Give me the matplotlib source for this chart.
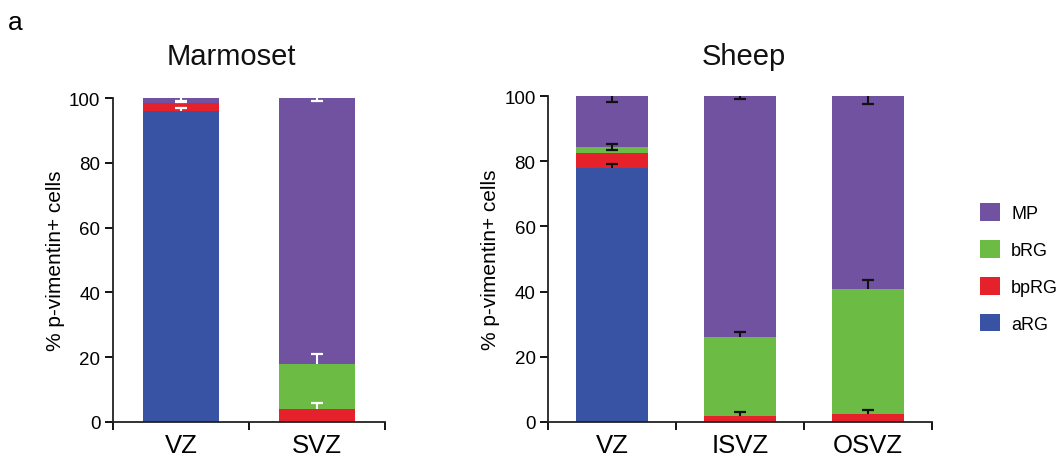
import matplotlib
matplotlib.use("Agg")
import matplotlib.pyplot as plt
import numpy as np

plt.rcParams['font.family'] = ['Liberation Sans', 'DejaVu Sans']

series = ["aRG", "bpRG", "bRG", "MP"]
colors = {"aRG": "#3953A4", "bpRG": "#E5222B", "bRG": "#6CBB45", "MP": "#7052A1"}

# Marmoset
marm_cats = ["VZ", "SVZ"]
marm_vals = {
    "aRG": [96.0, 0.0],
    "bpRG": [2.5, 4.0],
    "bRG": [0.0, 14.0],
    "MP": [1.5, 82.0],
}
marm_err = {
    "aRG": [1.0, 0.0],
    "bpRG": [0.6, 2.0],
    "bRG": [0.0, 3.0],
    "MP": [1.2, 1.0],
}

# Sheep
sheep_cats = ["VZ", "ISVZ", "OSVZ"]
sheep_vals = {
    "aRG": [78.0, 0.0, 0.0],
    "bpRG": [4.6, 1.8, 2.6],
    "bRG": [1.7, 24.4, 38.3],
    "MP": [15.7, 73.8, 59.1],
}
sheep_err = {
    "aRG": [1.0, 0.0, 0.0],
    "bpRG": [0.0, 1.2, 1.0],
    "bRG": [0.9, 1.5, 2.6],
    "MP": [1.8, 0.8, 2.5],
}

yticks = [0, 20, 40, 60, 80, 100]

fig = plt.figure(figsize=(10.58, 4.6), dpi=100)
ax1 = fig.add_axes([113/1058, 1-423/460, 272/1058, (423-99)/460])
ax2 = fig.add_axes([548/1058, 1-423/460, 384/1058, (423-97)/460])


def one_sided(ax, xi, y0, e, direction, ecolor):
    y1 = y0 + direction * e
    ax.plot([xi, xi], [y0, y1], color=ecolor, lw=1.5, zorder=3, solid_capstyle='butt')
    ax.plot([xi], [y1], marker='_', markersize=8, markeredgewidth=1.6,
            color=ecolor, zorder=3)


def draw(ax, cats, vals, errs, ecolor, title, both_idx=None):
    x = np.arange(len(cats))
    bottom = np.zeros(len(cats))
    width = 0.555
    for s in series:
        v = np.array(vals[s])
        ax.bar(x, v, width, bottom=bottom, color=colors[s], edgecolor='none', zorder=2)
        top = bottom + v
        e = np.array(errs[s])
        for i in range(len(cats)):
            if e[i] <= 0:
                continue
            if s == "MP":
                one_sided(ax, x[i], top[i], e[i], -1, ecolor)
            else:
                one_sided(ax, x[i], top[i], e[i], 1, ecolor)
                if both_idx is not None and (s, i) == both_idx:
                    one_sided(ax, x[i], top[i], e[i], -1, ecolor)
        bottom = top
    ax.set_xlim(-0.5, len(cats) - 0.5)
    ax.set_ylim(0, 100)
    ax.set_yticks(yticks)
    ax.set_yticklabels([str(t) for t in yticks], fontsize=13.5)
    ax.set_xticks(np.arange(len(cats) + 1) - 0.5)
    ax.set_xticklabels([])
    ax.set_xticks(x, minor=True)
    ax.set_xticklabels(cats, minor=True, fontsize=18.5)
    ax.tick_params(axis='x', which='minor', length=0, pad=8)
    ax.tick_params(axis='x', which='major', length=6, width=1.3, direction='out')
    ax.tick_params(axis='y', length=6, width=1.3, direction='out', pad=3)
    for sp in ["top", "right"]:
        ax.spines[sp].set_visible(False)
    for sp in ["left", "bottom"]:
        ax.spines[sp].set_linewidth(1.3)
        ax.spines[sp].set_color("#222222")
    ax.set_ylabel("% p-vimentin+ cells", fontsize=15, labelpad=3)


draw(ax1, marm_cats, marm_vals, marm_err, "white", "Marmoset")
draw(ax2, sheep_cats, sheep_vals, sheep_err, "#111111", "Sheep", both_idx=("bRG", 0))

fig.text(231/1058, 1-57/460, "Marmoset", fontsize=21, ha='center', va='center', color="#111111")
fig.text(744/1058, 1-57/460, "Sheep", fontsize=21, ha='center', va='center', color="#111111")

from matplotlib.patches import Patch
handles = [Patch(facecolor=colors[s], edgecolor='none') for s in ["MP", "bRG", "bpRG", "aRG"]]
fig.legend(handles, ["MP", "bRG", "bpRG", "aRG"], loc='upper left',
           bbox_to_anchor=(966/1058, 1-190/460), frameon=False, fontsize=13,
           handlelength=1.1, handleheight=1.1, labelspacing=1.0, handletextpad=0.6,
           borderpad=0.3)

fig.text(8/1058, 1-30/460, "a", fontsize=19)

fig.savefig("out.png", dpi=100)
